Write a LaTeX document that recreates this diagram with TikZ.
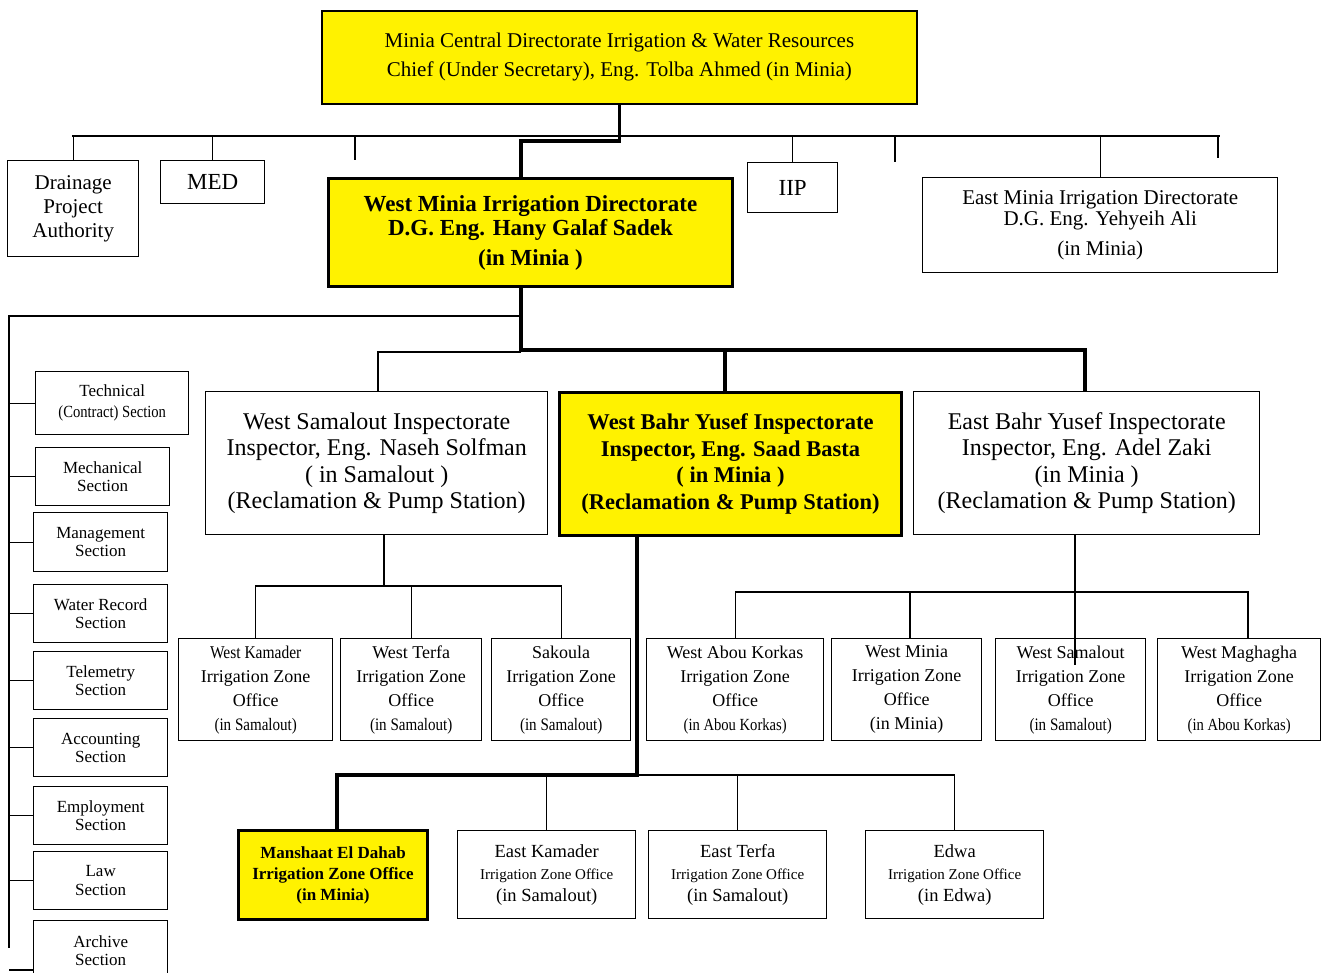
\documentclass[tikz,border=0pt]{standalone}
\usepackage{fontspec}
\setmainfont{Liberation Serif}
\newfontfamily\condfont[FakeStretch=0.86]{Liberation Serif}
\begin{document}
\begin{tikzpicture}[x=1pt,y=-1pt]
\tikzset{
 box/.style={draw, line width=1.4pt, anchor=north west, align=center, inner sep=0pt},
 hbox/.style={box, fill=yellow, line width=3pt},
 ln/.style={line width=1.3pt},
 tk/.style={line width=3.5pt},
 sect/.style={box, minimum width=134pt, minimum height=58pt, font=\fontsize{17}{18.5}\selectfont},
 zone/.style={box, minimum height=102pt, font=\fontsize{18}{24}\selectfont},
 low/.style={box, minimum width=178pt, minimum height=88pt, font=\fontsize{18.5}{22}\selectfont},
 insp/.style={box, minimum width=342pt, minimum height=143pt, font=\fontsize{24}{26.5}\selectfont},
}
\useasboundingbox (0,0) rectangle (1321,973);
% top
\node[box, fill=yellow, line width=1.8pt, minimum width=595pt, minimum height=93pt, font=\fontsize{21}{29}\selectfont] (top) at (321,10)
 {Minia Central Directorate Irrigation \& Water Resources\\Chief (Under Secretary), Eng. Tolba Ahmed (in Minia)};
\node[box, minimum width=131pt, minimum height=96pt, font=\fontsize{21}{24}\selectfont] (drain) at (7,160) {Drainage\\Project\\Authority};
\node[box, minimum width=104pt, minimum height=43pt, font=\fontsize{23}{24}\selectfont] (med) at (160,160) {MED};
\node[hbox, minimum width=404pt, minimum height=108pt, font=\bfseries\fontsize{23}{24}\selectfont] (wmid) at (327,177)
 {West Minia Irrigation Directorate\\D.G. Eng. Hany Galaf Sadek\\[6pt](in Minia )};
\node[box, minimum width=90pt, minimum height=50pt, font=\fontsize{23}{24}\selectfont] (iip) at (747,162) {IIP};
\node[box, minimum width=355pt, minimum height=95pt, font=\fontsize{21}{21}\selectfont] (emid) at (922,177)
 {East Minia Irrigation Directorate\\D.G. Eng. Yehyeih Ali\\[9pt](in Minia)};
% left sections
\node[box, minimum width=153pt, minimum height=63pt, font=\fontsize{17}{21}\selectfont] (tech) at (35,371) {Technical\\{\condfont\fontsize{17}{21}\selectfont (Contract) Section}};
\node[sect] (mech) at (35,447) {Mechanical\\Section};
\node[sect, minimum height=59pt] (mgmt) at (33,512) {Management\\Section};
\node[sect] (water) at (33,584) {Water Record\\Section};
\node[sect] (tele) at (33,651) {Telemetry\\Section};
\node[sect] (acct) at (33,718) {Accounting\\Section};
\node[sect] (empl) at (33,786) {Employment\\Section};
\node[sect] (law) at (33,851) {Law\\Section};
\node[sect, minimum height=60pt] (arch) at (33,920) {Archive\\Section};
% inspectorates
\node[insp] (wsi) at (205,391) {West Samalout Inspectorate\\Inspector, Eng. Naseh Solfman\\( in Samalout )\\(Reclamation \& Pump Station)};
\node[insp, hbox, font=\bfseries\fontsize{22.5}{26.5}\selectfont] (wby) at (558,391) {West Bahr Yusef Inspectorate\\Inspector, Eng. Saad Basta\\( in Minia )\\(Reclamation \& Pump Station)};
\node[insp, minimum width=346pt] (eby) at (913,391) {East Bahr Yusef Inspectorate\\Inspector, Eng. Adel Zaki\\(in Minia )\\(Reclamation \& Pump Station)};
% zones
\node[zone, minimum width=154pt] (wk) at (178,638) {{\condfont West Kamader}\\Irrigation Zone\\Office\\{\condfont\fontsize{17.5}{24}\selectfont (in Samalout)}};
\node[zone, minimum width=141pt] (wt) at (340,638) {West Terfa\\Irrigation Zone\\Office\\{\condfont\fontsize{17.5}{24}\selectfont (in Samalout)}};
\node[zone, minimum width=139pt] (sak) at (491,638) {Sakoula\\Irrigation Zone\\Office\\{\condfont\fontsize{17.5}{24}\selectfont (in Samalout)}};
\node[zone, minimum width=177pt] (wak) at (646,638) {West Abou Korkas\\Irrigation Zone\\Office\\{\condfont\fontsize{17}{24}\selectfont (in Abou Korkas)}};
\node[zone, minimum width=150pt] (wm) at (831,638) {West Minia\\Irrigation Zone\\Office\\(in Minia)};
\node[zone, minimum width=150pt] (wsz) at (995,638) {West Samalout\\Irrigation Zone\\Office\\{\condfont\fontsize{17.5}{24}\selectfont (in Samalout)}};
\node[zone, minimum width=163pt] (wmag) at (1157,638) {West Maghagha\\Irrigation Zone\\Office\\{\condfont\fontsize{17}{24}\selectfont (in Abou Korkas)}};
% bottom
\node[hbox, minimum width=189pt, minimum height=89pt, font=\bfseries\fontsize{17}{21}\selectfont] (mans) at (237,829) {Manshaat El Dahab\\Irrigation Zone Office\\(in Minia)};
\node[low] (ek) at (457,830) {East Kamader\\{\fontsize{15}{22}\selectfont Irrigation Zone Office}\\(in Samalout)};
\node[low] (et) at (648,830) {East Terfa\\{\fontsize{15}{22}\selectfont Irrigation Zone Office}\\(in Samalout)};
\node[low] (edwa) at (865,830) {Edwa\\{\fontsize{15}{22}\selectfont Irrigation Zone Office}\\(in Edwa)};
% connectors: top level
\coordinate (busL) at (72,136);
\coordinate (busR) at (1220,136);
\draw[ln] (busL) -- (busR);
\draw[ln] (drain.north) -- (drain.north |- busL);
\draw[ln] (med.north) -- (med.north |- busL);
\draw[ln] (iip.north) -- (iip.north |- busL);
\draw[ln] (emid.north) -- (emid.north |- busL);
\coordinate (s1) at (355,160);
\coordinate (s2) at (895,162);
\coordinate (s3) at (1218,158);
\draw[ln] (s1) -- (s1 |- busL);
\draw[ln] (s2) -- (s2 |- busL);
\draw[ln] (s3) -- (s3 |- busL);
\coordinate (b1) at (618,141);
\coordinate (b2) at (521,141);
\draw[tk] (top.south) -- (top.south |- b1) -- (b2) -- (b2 |- wmid.north);
% west minia down
\coordinate (m1) at (521,350);
\coordinate (m2) at (1085,350);
\coordinate (m3) at (725,350);
\draw[tk] (wmid.south -| m1) -- (m1) -- (m2) -- (m2 |- eby.north);
\draw[tk] (m3) -- (m3 |- wby.north);
\coordinate (m4) at (378,352);
\draw[ln] (m1 |- m4) -- (m4) -- (m4 |- wsi.north);
% left column
\coordinate (lt) at (9,316);
\coordinate (lb) at (9,948);
\draw[ln] (m1 |- lt) -- (lt) -- (lb);
\foreach \s in {tech,mech,mgmt,water,tele,acct,empl,law}{
  \draw[ln] (\s.west -| lt) -- (\s.west);
}
\coordinate (la) at (9,970);
\draw[ln] (la) -- (la -| arch.west);
% west samalout children
\coordinate (w1) at (384,586);
\draw[ln] (wsi.south -| w1) -- (w1);
\draw[ln] (wk.north) -- (wk.north |- w1) -- (sak.north |- w1) -- (sak.north);
\draw[ln] (wt.north) -- (wt.north |- w1);
% east bahr yusef children
\coordinate (e1) at (1075,592);
\coordinate (e2) at (1075,665);
\coordinate (e3) at (910,592);
\coordinate (e4) at (1248,592);
\draw[ln] (eby.south -| e1) -- (e2);
\draw[ln] (wak.north) -- (wak.north |- e1) -- (e4) -- (e4 |- wmag.north);
\draw[ln] (e3) -- (e3 |- wm.north);
% west bahr yusef children
\coordinate (y1) at (637,775);
\coordinate (y2) at (337,775);
\draw[tk] (wby.south -| y1) -- (y1) -- (y2) -- (y2 |- mans.north);
\draw[ln] (y1) -- (edwa.north |- y1) -- (edwa.north);
\draw[ln] (ek.north) -- (ek.north |- y1);
\draw[ln] (et.north) -- (et.north |- y1);
\end{tikzpicture}
\end{document}
